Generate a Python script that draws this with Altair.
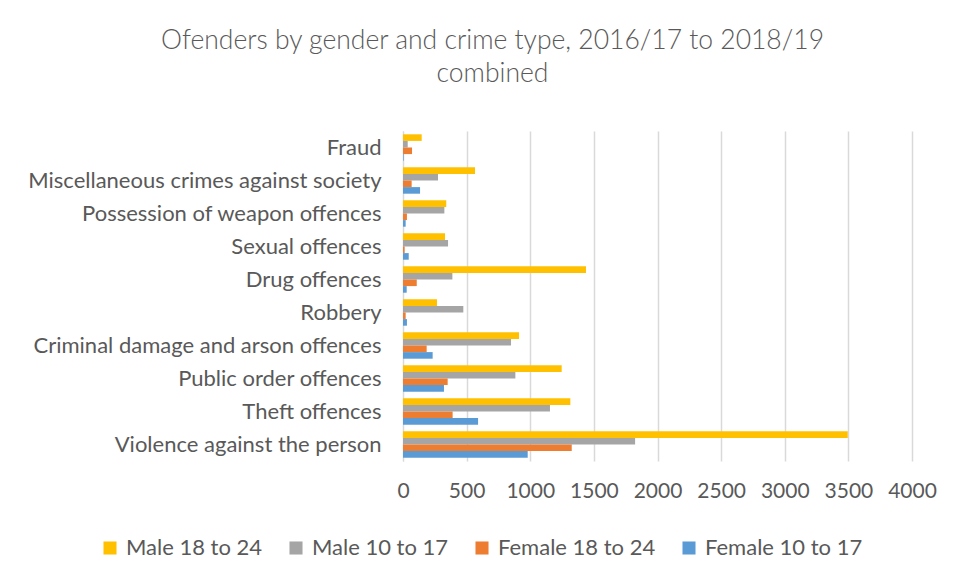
import altair as alt
import pandas as pd

categories = [
    "Fraud",
    "Miscellaneous crimes against society",
    "Possession of weapon offences",
    "Sexual offences",
    "Drug offences",
    "Robbery",
    "Criminal damage and arson offences",
    "Public order offences",
    "Theft offences",
    "Violence against the person",
]
series = ["Male 18 to 24", "Male 10 to 17", "Female 18 to 24", "Female 10 to 17"]
colors = ["#FFC000", "#A5A5A5", "#ED7D31", "#5B9BD5"]

male_18_24 = [147, 566, 340, 330, 1438, 267, 912, 1247, 1315, 3495]
male_10_17 = [37, 275, 325, 354, 388, 474, 849, 883, 1155, 1824]
female_18_24 = [71, 68, 31, 13, 108, 21, 186, 351, 390, 1326]
female_10_17 = [5, 134, 21, 45, 29, 31, 233, 322, 590, 980]

x_ticks = [0, 500, 1000, 1500, 2000, 2500, 3000, 3500, 4000]

rows = []
for s, vals in zip(series, [male_18_24, male_10_17, female_18_24, female_10_17]):
    for c, v in zip(categories, vals):
        rows.append({"Crime": c, "Series": s, "Value": v})
df = pd.DataFrame(rows)

font = "Lato"

chart = (
    alt.Chart(df)
    .mark_bar()
    .encode(
        y=alt.Y(
            "Crime:N",
            sort=categories,
            scale=alt.Scale(paddingInner=0.2, paddingOuter=0.1),
            axis=alt.Axis(
                title=None,
                labelFontSize=22,
                labelColor="#595959",
                labelFont=font,
                labelPadding=22,
                ticks=False,
                domainColor="#D9D9D9",
                labelLimit=450,
            ),
        ),
        yOffset=alt.YOffset("Series:N", sort=series, scale=alt.Scale(paddingInner=0)),
        x=alt.X(
            "Value:Q",
            scale=alt.Scale(domain=[0, 4000], nice=False),
            axis=alt.Axis(
                title=None,
                values=x_ticks,
                format="d",
                labelOverlap=False,
                labelFlush=False,
                labelBound=False,
                labelFontSize=21,
                labelColor="#595959",
                labelFont=font,
                labelPadding=19,
                ticks=False,
                domain=False,
                grid=True,
                gridColor="#D9D9D9",
                gridWidth=1.5,
            ),
        ),
        color=alt.Color(
            "Series:N",
            scale=alt.Scale(domain=series, range=colors),
            legend=alt.Legend(
                title=None,
                orient="none",
                legendX=-304,
                legendY=406,
                direction="horizontal",
                columns=4,
                symbolType="square",
                symbolSize=170,
                symbolStrokeWidth=0,
                labelFontSize=22,
                labelColor="#595959",
                labelFont=font,
                columnPadding=22,
                labelOffset=5,
                labelLimit=300,
            ),
        ),
    )
    .properties(
        width=509,
        height=330,
        padding={"left": 395, "top": 123, "right": 40, "bottom": 110},
        autosize=alt.AutoSizeParams(type="none"),
        title=alt.TitleParams(
            text=["Ofenders by gender and crime type, 2016/17 to 2018/19", "combined"],
            fontSize=26.5,
            font=font,
            fontWeight=300,
            color="#595959",
            anchor="middle",
            dx=-165,
            offset=44,
            lineHeight=33,
        ),
    )
    .configure_view(stroke=None)
)

chart.save("out.html", embed_options={"renderer": "svg", "actions": False})
